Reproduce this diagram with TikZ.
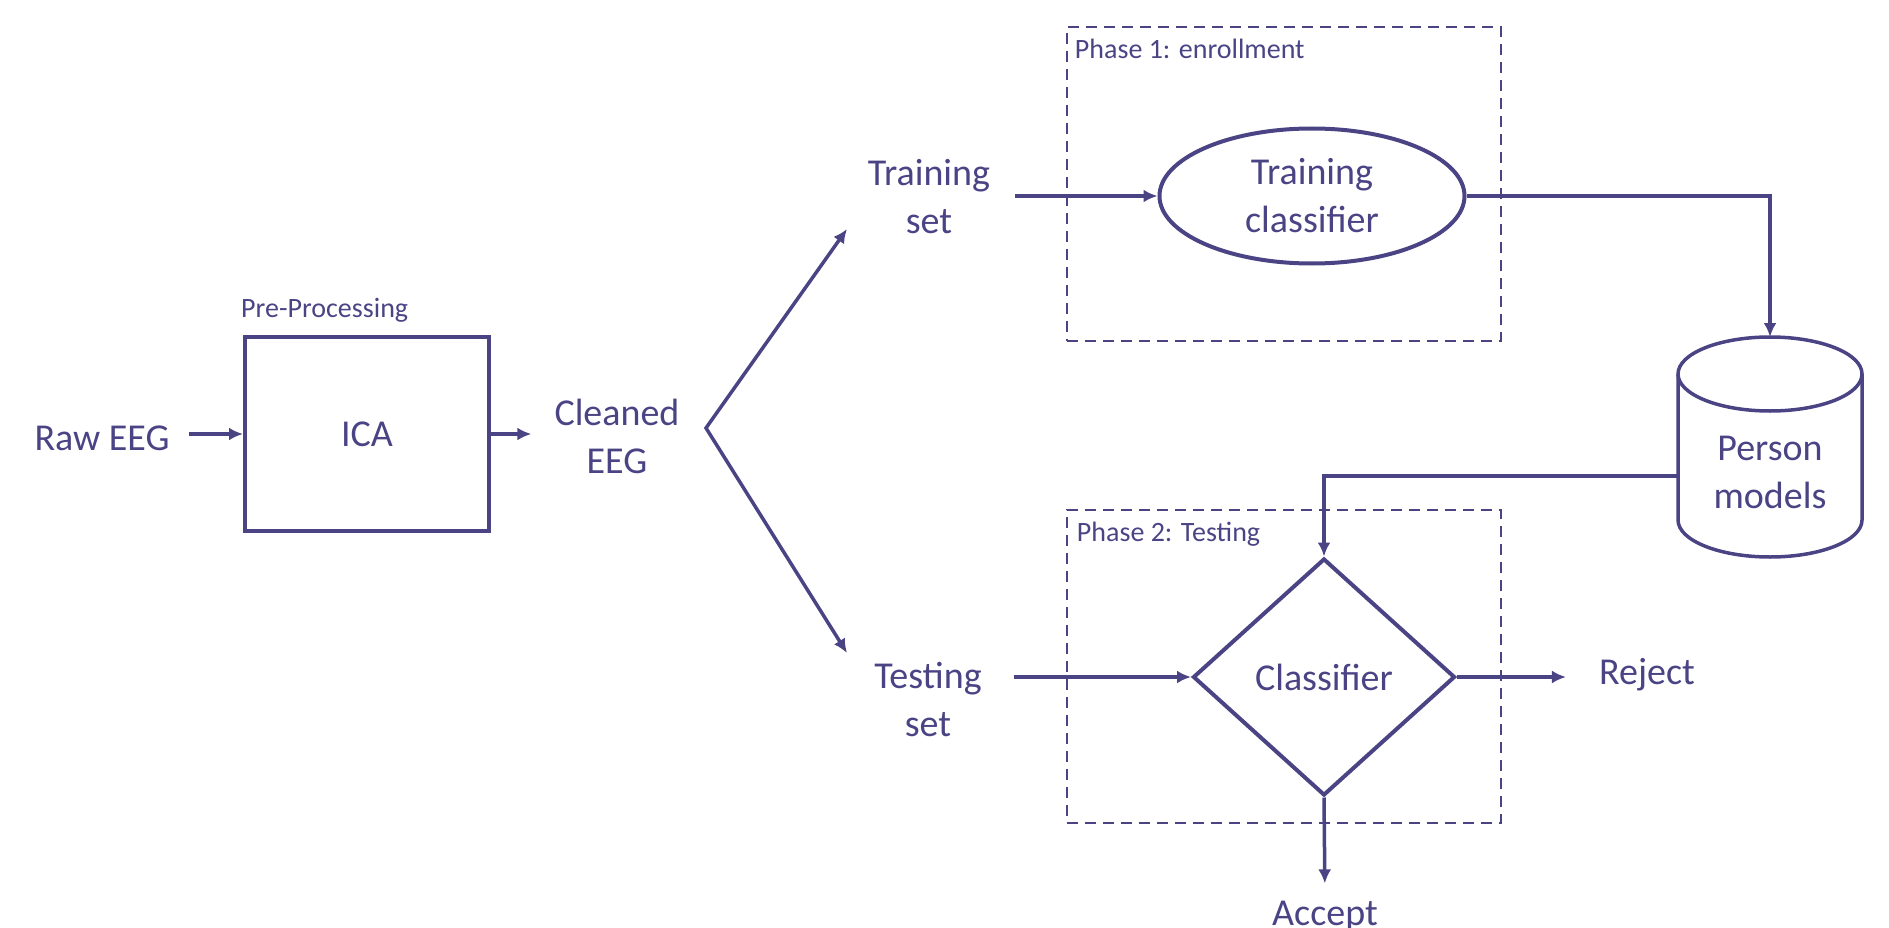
\documentclass[tikz,border=0pt]{standalone}
\usepackage{fontspec}
\setmainfont{Carlito}
\usetikzlibrary{shapes.geometric,arrows.meta,calc}
\definecolor{ink}{RGB}{74,68,133}
\begin{document}
\begin{tikzpicture}[x=1pt,y=-1pt,
  every node/.style={text=ink, font=\fontsize{38}{48}\selectfont},
  lbl/.style={align=center, inner sep=0pt},
  small/.style={font=\fontsize{28}{34}\selectfont, inner sep=0pt},
  tip/.tip={Latex[length=14pt,width=13pt]},
  conn/.style={draw=ink, line width=3.5pt, -tip},
  plain/.style={draw=ink, line width=3.5pt},
  box/.style={draw=ink, line width=4pt},
  phase/.style={draw=ink, line width=2.5pt, dash pattern=on 11pt off 7pt},
]
\useasboundingbox (0,0) rectangle (1889,928);

% phase frames
\node[phase, minimum width=434pt, minimum height=314pt, inner sep=0pt] (ph1) at (1284,184) {};
\node[phase, minimum width=434pt, minimum height=313pt, inner sep=0pt] (ph2) at (1284,666.5) {};
\node[small, anchor=north west] (ph1lbl) at ([shift={(9pt,-13pt)}]ph1.north west) {Phase 1: enrollment};
\node[small, anchor=north west] (ph2lbl) at ([shift={(11pt,-13pt)}]ph2.north west) {Phase 2: Testing};

% left part
\node[lbl] (raw) at (102,438) {Raw EEG};
\node[box, minimum width=244pt, minimum height=194pt, inner sep=0pt] (ica) at (367,434) {ICA};
\node[small, anchor=west] (pre) at (241,310) {Pre-Processing};
\node[lbl] (clean) at (617,436) {Cleaned\\EEG};

\coordinate (br) at (706,428);
\node[lbl] (train) at (929,197) {Training\\set};
\node[lbl] (test) at (928,699) {Testing\\set};
\coordinate (trainin) at (847,229);
\coordinate (testin) at (847,653);

% enrollment
\node[ellipse, box, minimum width=305pt, minimum height=135pt, align=center, inner sep=0pt] (tc) at (1312,196) {Training\\classifier};

% database cylinder
\node[lbl, minimum width=184pt] (db) at (1770,472) {Person\\models};
\coordinate (dbtop) at (1770,337);
\draw[plain] (1770,374) ellipse [x radius=92pt, y radius=37pt];
\draw[plain] (1678,374) -- (1678,520) arc[start angle=180, end angle=360, x radius=92pt, y radius=37pt] -- (1862,374);

% testing
\node[diamond, box, minimum width=262pt, minimum height=237pt, aspect=1.1, inner sep=0pt] (cls) at (1324,677) {Classifier};
\node[lbl] (reject) at (1647,675) {Reject};
\node[lbl, anchor=base] (accept) at (1325,925) {Accept};

% connectors
\draw[conn, shorten <=19pt] (raw.east |- ica.west) -- (ica.west);
\draw[conn, shorten >=23pt] (ica.east) -- (clean.west |- ica.east);
\draw[plain, tip-tip] (trainin) -- (br) -- (testin);
\draw[conn, shorten <=25pt] (train.east |- tc.west) -- (tc.west);
\draw[conn] (tc.east) -| (dbtop);
\draw[conn] ([yshift=-4pt]db.west) -| (cls.north);
\draw[conn, shorten <=32pt] (test.east |- cls.west) -- (cls.west);
\draw[conn, shorten >=33pt] (cls.east) -- (reject.west |- cls.east);
\draw[conn, shorten >=17pt] (cls.south) -- (accept.north);
\end{tikzpicture}
\end{document}
